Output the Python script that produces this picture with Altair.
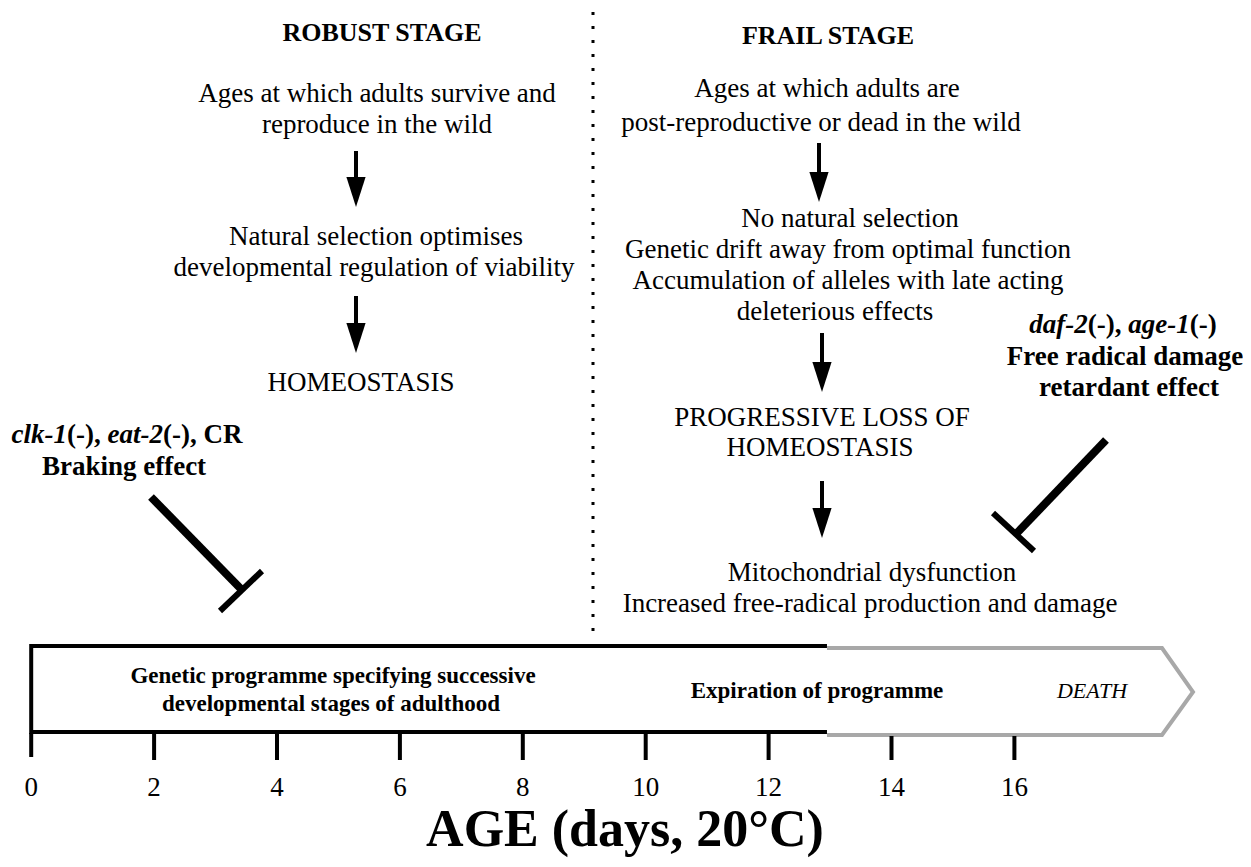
import altair as alt
import pandas as pd

# ---------------- data ----------------
# age axis (days)
tick_ages = [0, 2, 4, 6, 8, 10, 12, 14, 16]
tick_labels = ["0", "2", "4", "6", "8", "10", "12", "14", "16"]
programme_end_age = 12.95          # black box ends, grey "death" arrow starts
axis_title = "AGE (days, 20°C)"

stage_titles = ["ROBUST STAGE", "FRAIL STAGE"]

robust_lines = [
    "Ages at which adults survive and",
    "reproduce in the wild",
    "Natural selection optimises",
    "developmental regulation of viability",
    "HOMEOSTASIS",
]
frail_lines = [
    "Ages at which adults are",
    "post-reproductive or dead in the wild",
    "No natural selection",
    "Genetic drift away from optimal function",
    "Accumulation of alleles with late acting",
    "deleterious effects",
    "PROGRESSIVE LOSS OF",
    "HOMEOSTASIS",
    "Mitochondrial dysfunction",
    "Increased free-radical production and damage",
]
box_lines = [
    "Genetic programme specifying successive",
    "developmental stages of adulthood",
    "Expiration of programme",
]
death_label = "DEATH"

# mixed-style annotation lines: (text, italic?)
brake_segments = [("clk-1", True), ("(-), ", False), ("eat-2", True), ("(-), CR", False)]
brake_label = "Braking effect"
retard_segments = [("daf-2", True), ("(-), ", False), ("age-1", True), ("(-)", False)]
retard_labels = ["Free radical damage", "retardant effect"]

# ---------------- layout (page pixels -> age units) ----------------
W, H = 1235, 851
X0, PX_PER_DAY = 31.2, 61.45


def age(px):
    return (px - X0) / PX_PER_DAY


SERIF = "Liberation Serif"

x_scale = alt.Scale(domain=[age(8), age(8 + W)], nice=False, zero=False)
y_scale = alt.Scale(domain=[8, 8 + H], reverse=True, nice=False, zero=False)
X = lambda f="x": alt.X(f"{f}:Q", scale=x_scale, axis=None)
Y = lambda f="y": alt.Y(f"{f}:Q", scale=y_scale, axis=None)


def text_layer(rows, size, weight="normal", style="normal", align="center"):
    df = pd.DataFrame(rows, columns=["x", "y", "text"])
    return alt.Chart(df).mark_text(
        font=SERIF, fontSize=size, fontWeight=weight, fontStyle=style,
        align=align, baseline="alphabetic", color="black"
    ).encode(x=X(), y=Y(), text="text:N")


layers = []

# dotted separator
sep = pd.DataFrame([{"x": age(593), "y": 12, "y2": 640}])
layers.append(alt.Chart(sep).mark_rule(color="black", strokeWidth=3, strokeDash=[3, 11])
              .encode(x=X(), y=Y(), y2="y2:Q"))

# headings
layers.append(text_layer([(age(382), 41, stage_titles[0]), (age(828), 44, stage_titles[1])],
                         26, weight="bold"))

# body text
robust_pos = [(377, 102), (377, 133), (376, 245), (374, 276), (361, 391)]
frail_pos = [(827, 97), (821, 131), (850, 227), (848, 258), (848, 289), (835, 320),
             (822, 426), (820, 456), (872, 581), (870, 612)]
rows = [(age(p[0]), p[1], t) for p, t in zip(robust_pos, robust_lines)]
rows += [(age(p[0]), p[1], t) for p, t in zip(frail_pos, frail_lines)]
layers.append(text_layer(rows, 27))

# downward arrows: (x, top, tip)
arrows = [(356, 151, 207), (356, 296, 353), (819, 143, 202), (822, 333, 392), (822, 481, 538)]
shafts = pd.DataFrame([{"x": age(a[0]), "y": a[1], "y2": a[2] - 25} for a in arrows])
heads = pd.DataFrame([{"x": age(a[0]), "y": a[2] - 15} for a in arrows])
layers.append(alt.Chart(shafts).mark_rule(color="black", strokeWidth=4)
              .encode(x=X(), y=Y(), y2="y2:Q"))
layers.append(alt.Chart(heads).mark_point(
    shape="M-0.32,-0.5L0.32,-0.5L0,0.5Z", size=3600, filled=True,
    color="black", opacity=1, strokeWidth=0).encode(x=X(), y=Y()))

# inhibition symbols (line + bar)
inhib_lines = pd.DataFrame([
    {"x": age(151), "y": 497, "x2": age(241), "y2": 589},
    {"x": age(1106), "y": 440, "x2": age(1016), "y2": 534},
])
inhib_bars = pd.DataFrame([
    {"x": age(262), "y": 571, "x2": age(220), "y2": 611},
    {"x": age(993), "y": 513, "x2": age(1034), "y2": 551},
])
layers.append(alt.Chart(inhib_lines).mark_rule(color="black", strokeWidth=8)
              .encode(x=X(), y=Y(), x2="x2:Q", y2="y2:Q"))
layers.append(alt.Chart(inhib_bars).mark_rule(color="black", strokeWidth=6)
              .encode(x=X(), y=Y(), x2="x2:Q", y2="y2:Q"))

# annotation texts with mixed styles
BW = {"c": 444, "l": 278, "k": 500, "-": 333, "1": 500, "2": 500, "e": 444, "a": 500,
      "t": 278, "d": 500, "f": 333, "g": 500, "(": 333, ")": 333, ",": 250, " ": 250,
      "C": 722, "R": 722}


def seg_rows(segments, center_px, base, size):
    widths = [sum(BW[c] for c in s) * size / 1000 for s, _ in segments]
    start = center_px - sum(widths) / 2
    it, up = [], []
    for (s, ital), w in zip(segments, widths):
        (it if ital else up).append((age(start), base, s))
        start += w
    return it, up


b_it, b_up = seg_rows(brake_segments, 127, 443, 27)
r_it, r_up = seg_rows(retard_segments, 1123, 333, 27)
layers.append(text_layer(b_it + r_it, 27, weight="bold", style="italic", align="left"))
layers.append(text_layer(b_up + r_up, 27, weight="bold", align="left"))
layers.append(text_layer([(age(124), 475, brake_label),
                          (age(1125), 365, retard_labels[0]),
                          (age(1129), 396, retard_labels[1])], 27, weight="bold"))

# programme box (black part)
box_black = pd.DataFrame([
    {"x": 0, "y": 646, "x2": programme_end_age, "y2": 646},
    {"x": 0, "y": 732, "x2": programme_end_age, "y2": 732},
    {"x": 0, "y": 644, "x2": 0, "y2": 734},
])
layers.append(alt.Chart(box_black).mark_rule(color="black", strokeWidth=4)
              .encode(x=X(), y=Y(), x2="x2:Q", y2="y2:Q"))

# grey death arrow outline
grey = pd.DataFrame([
    {"o": 0, "x": programme_end_age, "y": 648},
    {"o": 1, "x": age(1162), "y": 648},
    {"o": 2, "x": age(1193), "y": 692},
    {"o": 3, "x": age(1162), "y": 735},
    {"o": 4, "x": programme_end_age, "y": 735},
])
layers.append(alt.Chart(grey).mark_line(color="#a8a8a8", strokeWidth=4, strokeJoin="miter")
              .encode(x=X(), y=Y(), order="o:Q"))

# box texts
layers.append(text_layer([(age(333), 683, box_lines[0]), (age(331), 711, box_lines[1]),
                          (age(817), 698, box_lines[2])], 23, weight="bold"))
layers.append(text_layer([(age(1092), 698, death_label)], 22, style="italic"))

# age ticks and labels
ticks = pd.DataFrame({"x": tick_ages, "y": [733 if a <= 12 else 736 for a in tick_ages],
                      "y2": [757 if a == 0 else 760 for a in tick_ages]})
layers.append(alt.Chart(ticks).mark_rule(color="black", strokeWidth=4)
              .encode(x=X(), y=Y(), y2="y2:Q"))
tl = pd.DataFrame({"x": tick_ages, "y": [796] * len(tick_ages), "text": tick_labels})
layers.append(alt.Chart(tl).mark_text(font=SERIF, fontSize=27, baseline="alphabetic",
                                      align="center", color="black")
              .encode(x=X(), y=Y(), text="text:N"))

# axis title
layers.append(text_layer([(age(625), 846, axis_title)], 52, weight="bold"))

chart = alt.layer(*layers).properties(
    width=W, height=H,
    autosize=alt.AutoSizeParams(type="none"),
    padding=0, background="white",
).configure_view(stroke=None)

chart.save("out.html", embed_options={"renderer": "svg", "actions": False})
